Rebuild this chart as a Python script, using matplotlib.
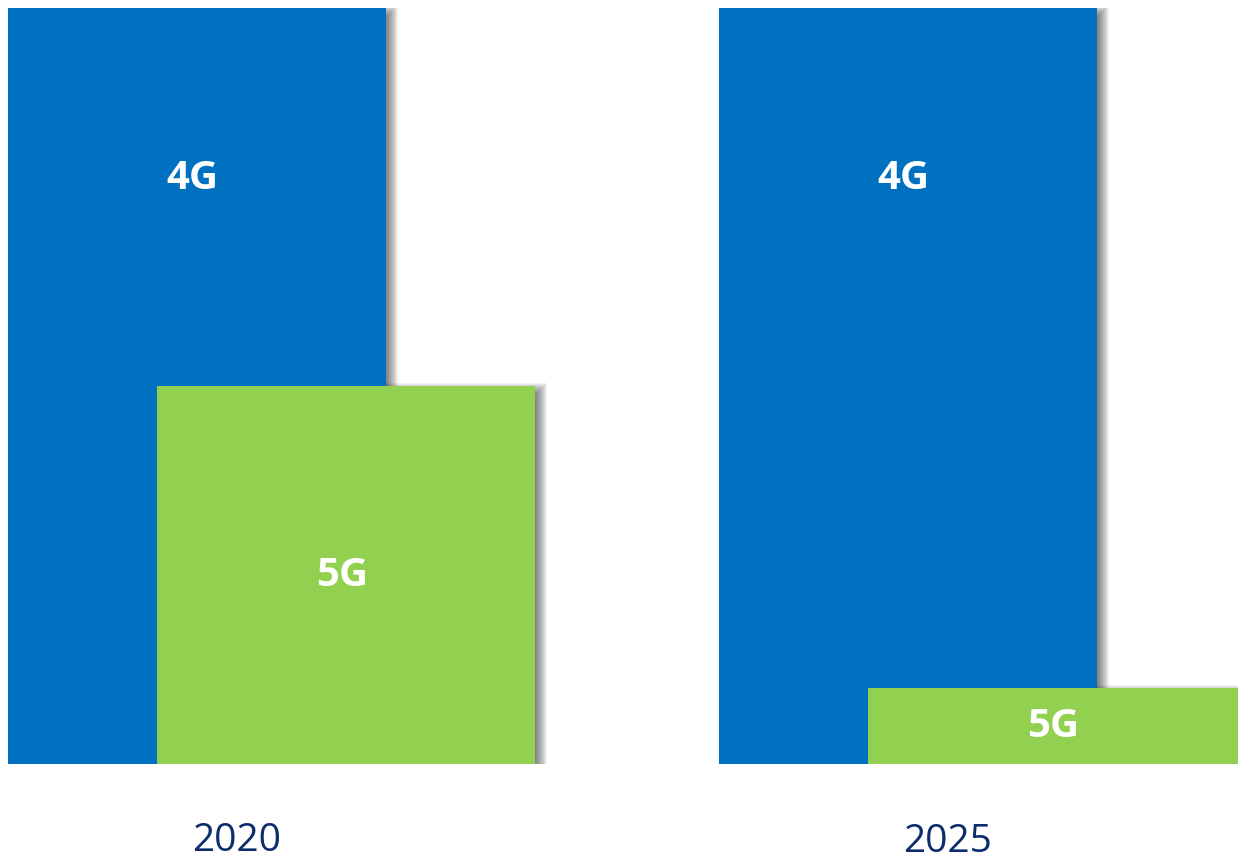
import matplotlib.pyplot as plt
import numpy as np

# data
years = ['2020', '2025']
share_4g = [100, 100]
share_5g = [50, 10]
labels = ['4G', '5G']

blue = '#0070c0'
green = '#92d050'
navy = '#0d2c6c'

fig = plt.figure(figsize=(12.38, 8.59), dpi=100)
ax = fig.add_axes([0, (859 - 764) / 859, 1, 756 / 859])

px_x = 1 / 711          # one pixel in x data units
px_y = 100 / 756        # one pixel in y data units
width = 378 * px_x
offset = 149 * px_x

x = np.arange(len(years))


def shadow(left, h):
    # soft drop shadow: stacked translucent rectangles, shifted down-right
    dx, dy = 6, 3
    for r in range(0, 13):
        ax.bar(left + (dx - r + 6) * px_x, h + (2 * r - 12) * px_y,
               width=width + (2 * r - 12) * px_x, bottom=-(dy + r - 6) * px_y,
               align='edge', color='black', alpha=0.05, linewidth=0, zorder=1)


for i in x:
    shadow(i, share_4g[i])
ax.bar(x, share_4g, width=width, align='edge', color=blue, linewidth=0, zorder=2)
for i in x:
    shadow(i + offset, share_5g[i])
ax.bar(x + offset, share_5g, width=width, align='edge', color=green, linewidth=0, zorder=4)

for i in x:
    ax.text(i + width / 2 - 5 * px_x, share_4g[i] * 0.775, labels[0], color='white',
            fontsize=29, fontweight='bold', family='Open Sans',
            ha='center', va='center', zorder=5)
    ax.text(i + offset + width / 2 - 4 * px_x, share_5g[i] / 2, labels[1], color='white',
            fontsize=29, fontweight='bold', family='Open Sans',
            ha='center', va='center', zorder=5)
    ax.text(i + 0.322, -(77 + i) * px_y, years[i], color=navy, fontsize=28,
            family='Open Sans', ha='center', va='center')

ax.set_xlim(-8 * px_x, (1238 - 8) * px_x)
ax.set_ylim(0, 100)
ax.axis('off')

plt.savefig('out.png', dpi=100)
